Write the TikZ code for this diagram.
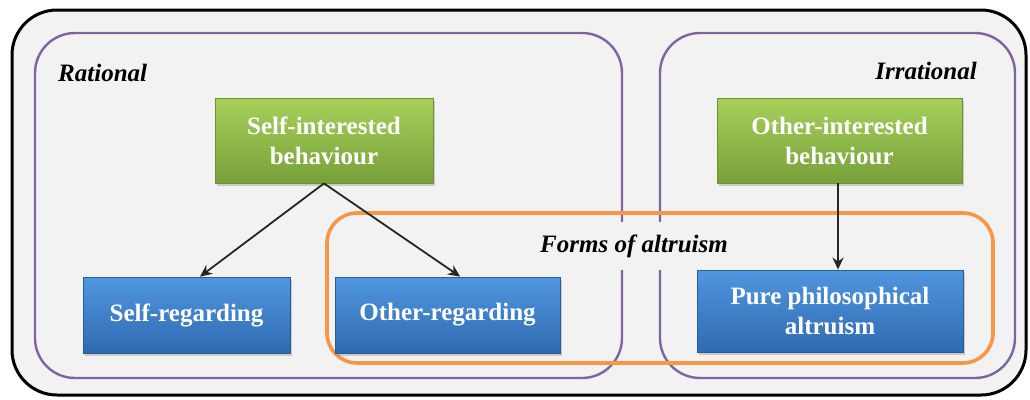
\documentclass[tikz,border=0pt]{standalone}
\usepackage{fontspec}
\setmainfont{Liberation Serif}
\usetikzlibrary{calc,shadows,arrows.meta}
\definecolor{bgc}{HTML}{F2F2F2}
\definecolor{purp}{HTML}{8064A2}
\definecolor{orng}{HTML}{F79646}
\definecolor{gtop}{HTML}{A6D05A}
\definecolor{gbot}{HTML}{78A03A}
\definecolor{gbrd}{HTML}{6E9232}
\definecolor{btop}{HTML}{5096E0}
\definecolor{bbot}{HTML}{2F6AB0}
\definecolor{bbrd}{HTML}{2A5C9A}
\tikzset{
  box/.style={draw, line width=0.8pt, align=center, text=white,
    font=\fontsize{25}{30}\selectfont\bfseries, inner sep=0pt,
    drop shadow={shadow xshift=2pt, shadow yshift=-3pt, opacity=0.35}},
  greenbox/.style={box, draw=gbrd, top color=gtop, bottom color=gbot},
  bluebox/.style={box, draw=bbrd, top color=btop, bottom color=bbot},
  grouplabel/.style={font=\fontsize{25}{30}\selectfont\bfseries\itshape, inner sep=0pt},
  conn/.style={line width=1.8pt, draw=black!85, -{Stealth[length=12pt,width=11pt]}}
}
\begin{document}
\begin{tikzpicture}[x=1pt,y=-1pt]
\useasboundingbox (0,0) rectangle (1030,399);
\fill[white] (0,0) rectangle (1030,399);
% outer frame
\draw[line width=3pt, fill=bgc, rounded corners=45pt] (12,10) rectangle (1026,395);
% purple groups
\draw[line width=2.4pt, draw=purp, rounded corners=40pt] (35,33) rectangle (622,378);
\draw[line width=2.4pt, draw=purp, rounded corners=40pt] (660,33) rectangle (1015,378);
% orange group
\draw[line width=3.6pt, draw=orng, rounded corners=30pt] (327,213) rectangle (993,363);
% labels
\node[grouplabel, anchor=west] (rat) at (58,73) {Rational};
\node[grouplabel, anchor=east] (irr) at (977,71) {Irrational};
\node[grouplabel, fill=bgc, inner xsep=8pt, minimum height=48pt] (forms) at (634,246) {Forms of altruism};
% boxes
\node[greenbox, minimum width=218pt, minimum height=85pt] (si) at (324,140.5) {Self-interested\\behaviour};
\node[greenbox, minimum width=245pt, minimum height=85pt] (oi) at (839.5,140.5) {Other-interested\\behaviour};
\node[bluebox, minimum width=207pt, minimum height=76pt] (sr) at (186.5,315) {Self-regarding};
\node[bluebox, minimum width=225pt, minimum height=76pt] (or) at (447.5,315) {Other-regarding};
\node[bluebox, minimum width=266pt, minimum height=82pt] (pa) at (830,311) {Pure philosophical\\altruism};
% connectors
\draw[conn] (si.south) -- ($(sr.north west)!0.565!(sr.north east)$);
\draw[conn] (si.south) -- ($(or.north west)!0.556!(or.north east)$);
\draw[conn] (oi.south -| pa.north) ++(8,0) coordinate (oa) (oa) -- (oa |- pa.north);
\end{tikzpicture}
\end{document}
